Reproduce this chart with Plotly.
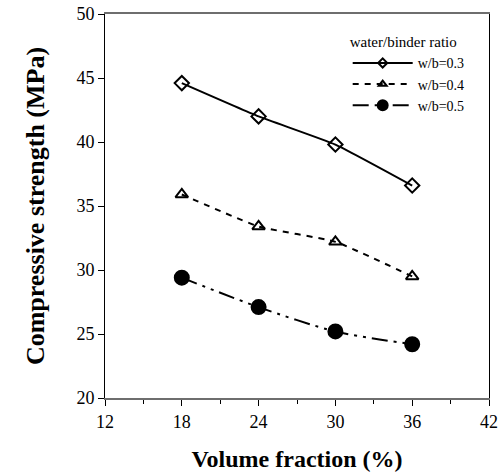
import plotly.graph_objects as go

# Volume fraction (%) and compressive strength (MPa) per water/binder ratio
volume_fraction = [18, 24, 30, 36]
strength_wb03 = [44.6, 42.0, 39.8, 36.6]
strength_wb04 = [35.9, 33.4, 32.2, 29.5]
strength_wb05 = [29.4, 27.1, 25.2, 24.2]

series_names = ["w/b=0.3", "w/b=0.4", "w/b=0.5"]
x_ticks = [12, 18, 24, 30, 36, 42]
y_ticks = [20, 25, 30, 35, 40, 45, 50]

FONT = "Liberation Serif"

styles = [
    dict(line=dict(color="black", width=2, shape="spline", smoothing=0.4),
         symbol="diamond-open", size=11, lsize=7),
    dict(line=dict(color="black", width=2, dash="6px,6px", shape="spline", smoothing=0.4),
         symbol="triangle-up-open", size=11, lsize=7),
    dict(line=dict(color="black", width=2, dash="16px,6px,3px,6px,3px,6px",
                   shape="spline", smoothing=0.8),
         symbol="circle", size=14, lsize=10),
]
series_values = [strength_wb03, strength_wb04, strength_wb05]

fig = go.Figure()

for name, values, st in zip(series_names, series_values, styles):
    fig.add_trace(go.Scatter(
        x=volume_fraction, y=values, name=name, legendgroup=name,
        mode="lines+markers", line=st["line"], showlegend=False,
        marker=dict(symbol=st["symbol"], size=st["size"], color="black",
                    line=dict(width=2, color="black")),
    ))
    # legend sample with a smaller marker
    fig.add_trace(go.Scatter(
        x=[None], y=[None], name=name, legendgroup=name,
        mode="lines+markers", line=st["line"],
        marker=dict(symbol=st["symbol"], size=st["lsize"], color="black",
                    line=dict(width=2, color="black")),
    ))

fig.update_layout(
    width=504, height=476,
    margin=dict(l=105, r=15, t=14, b=78),
    paper_bgcolor="white", plot_bgcolor="white",
    font=dict(family=FONT, color="black", size=14),
    showlegend=True,
    legend=dict(
        title=dict(text="water/binder ratio", font=dict(family=FONT, size=15, color="black")),
        font=dict(family=FONT, size=14, color="black"),
        x=0.632, xanchor="left", y=0.964, yanchor="top",
        bgcolor="rgba(0,0,0,0)", itemwidth=60, tracegroupgap=0,
    ),
)

fig.update_xaxes(
    range=[12, 42], tickvals=x_ticks, ticktext=[str(v) for v in x_ticks],
    automargin=False,
    showgrid=False, zeroline=False,
    showline=True, linecolor="#6e6e6e", linewidth=2, mirror=True,
    ticks="outside", ticklen=6, tickcolor="black", tickwidth=1,
    minor=dict(dtick=3, tick0=12, ticks="outside", ticklen=4, tickcolor="black"),
    tickfont=dict(family=FONT, size=18, color="black"),
    title=dict(text="<b>Volume fraction (%)</b>",
               font=dict(family=FONT, size=24, color="black"), standoff=20),
)
fig.update_yaxes(
    range=[20, 50], tickvals=y_ticks, ticktext=[str(v) for v in y_ticks],
    automargin=False,
    showgrid=False, zeroline=False,
    showline=True, linecolor="black", linewidth=1, mirror=True,
    ticks="outside", ticklen=6, tickcolor="black", tickwidth=1,
    tickfont=dict(family=FONT, size=18, color="black"),
    title=dict(text="<b>Compressive strength (MPa)</b>",
               font=dict(family=FONT, size=26, color="black"), standoff=24),
)

fig.write_html("out.html")
